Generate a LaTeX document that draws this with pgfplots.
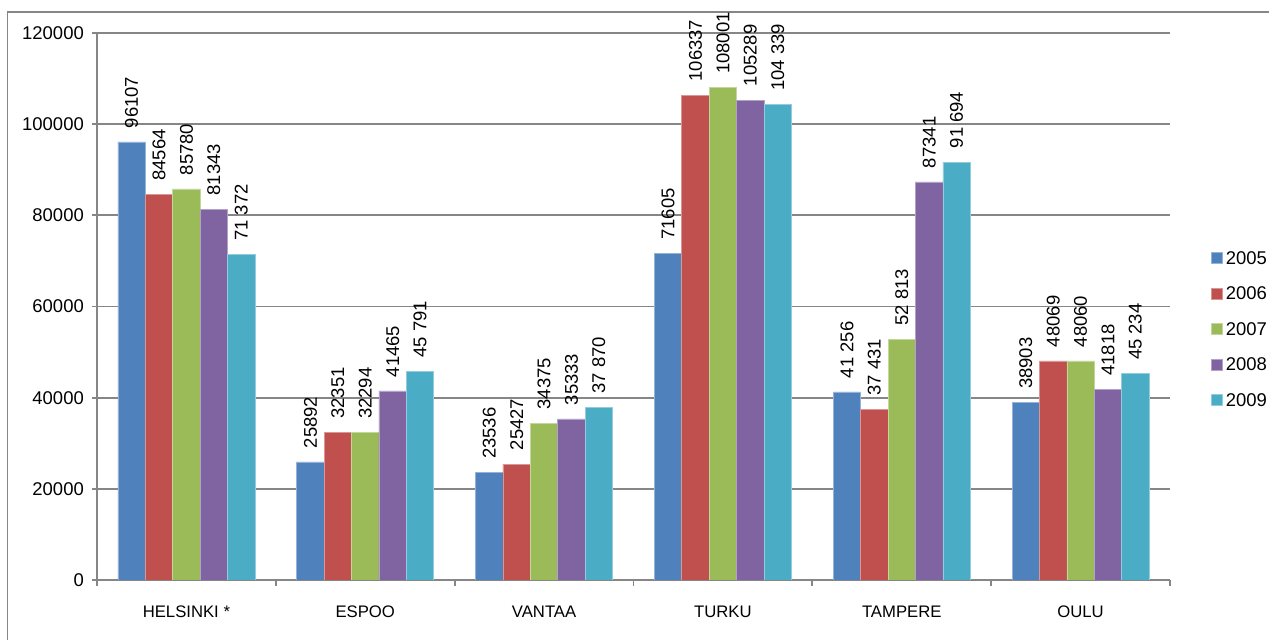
\documentclass[border=0pt]{standalone}
\usepackage{fontspec}
\setmainfont{Liberation Sans}
\usepackage{pgfplots}
\pgfplotsset{compat=1.18}
\definecolor{c05}{RGB}{79,129,189}
\definecolor{c06}{RGB}{192,80,77}
\definecolor{c07}{RGB}{155,187,89}
\definecolor{c08}{RGB}{128,100,162}
\definecolor{c09}{RGB}{75,172,198}
\definecolor{axgray}{RGB}{134,134,134}
\begin{document}
\begin{tikzpicture}
\useasboundingbox (0,0) rectangle (25.38,12.8);
\clip (0,0) rectangle (25.38,12.8);
\draw[axgray, line width=0.9pt] (0.15,-1) rectangle (26,12.56);
\begin{axis}[
    at={(1.94cm,1.2cm)}, anchor=south west,
    scale only axis,
    width=21.46cm, height=10.94cm,
    ybar=0pt,
    bar width=0.548cm,
    xmin=-0.5, xmax=5.5,
    ymin=0, ymax=120000,
    xtick={0,1,2,3,4,5},
    xticklabels={HELSINKI *, ESPOO, VANTAA, TURKU, TAMPERE, OULU},
    minor xtick={-0.5,0.5,1.5,2.5,3.5,4.5,5.5},
    ytick={0,20000,40000,60000,80000,100000,120000},
    yticklabels={0,20000,40000,60000,80000,100000,120000},
    scaled y ticks=false,
    axis x line=bottom, axis y line=left,
    axis line style={axgray, line width=1.1pt, -},
    tick align=outside,
    major tick length=0.1cm,
    minor tick length=0.12cm,
    major x tick style={draw=none},
    minor x tick style={axgray, line width=1.1pt},
    major y tick style={axgray, line width=1.1pt},
    ymajorgrids=true,
    grid style={axgray, line width=1.1pt},
    ticklabel style={font=\fontsize{10.5}{12}\selectfont},
    xticklabel style={font=\fontsize{9.5}{11}\selectfont, yshift=-0.3cm},
    yticklabel style={xshift=-0.04cm},
    point meta=explicit symbolic,
    nodes near coords={\pgfplotspointmeta},
    every node near coord/.append style={rotate=90, anchor=west, inner sep=0pt, inner xsep=0.27cm, font=\fontsize{10.5}{12}\selectfont, text=black},
    legend style={at={(1.0326,0.459)}, anchor=west, draw=none, fill=none,
        font=\fontsize{10.5}{12}\selectfont, row sep=0.46cm, column sep=0.07cm,
        nodes={inner sep=0pt, text height=0.25cm, text depth=0pt}},
    legend cell align=left,
    legend image code/.code={\fill[#1] (0cm,-0.11cm) rectangle (0.22cm,0.11cm);},
]
\addplot[fill=c05, draw=c05!60!white, line width=0.4pt] coordinates {
    (0,96107)[96107] (1,25892)[25892] (2,23536)[23536]
    (3,71605)[71605] (4,41256)[41 256] (5,38903)[38903]};
\addplot[fill=c06, draw=c06!60!white, line width=0.4pt] coordinates {
    (0,84564)[84564] (1,32351)[32351] (2,25427)[25427]
    (3,106337)[106337] (4,37431)[37 431] (5,48069)[48069]};
\addplot[fill=c07, draw=c07!60!white, line width=0.4pt] coordinates {
    (0,85780)[85780] (1,32294)[32294] (2,34375)[34375]
    (3,108001)[108001] (4,52813)[52 813] (5,48060)[48060]};
\addplot[fill=c08, draw=c08!60!white, line width=0.4pt] coordinates {
    (0,81343)[81343] (1,41465)[41465] (2,35333)[35333]
    (3,105289)[105289] (4,87341)[87341] (5,41818)[41818]};
\addplot[fill=c09, draw=c09!60!white, line width=0.4pt] coordinates {
    (0,71372)[71 372] (1,45791)[45 791] (2,37870)[37 870]
    (3,104339)[104 339] (4,91694)[91 694] (5,45234)[45 234]};
\legend{2005,2006,2007,2008,2009}
\end{axis}
\end{tikzpicture}
\end{document}
